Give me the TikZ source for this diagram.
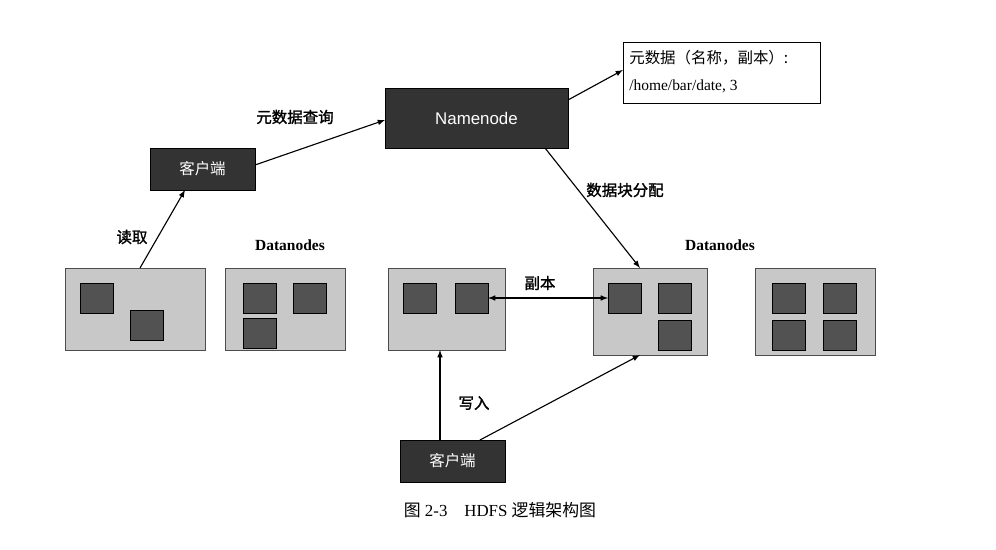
\documentclass[tikz,border=0pt]{standalone}
\usepackage{fontspec}
\setmainfont{Liberation Serif}
\newfontfamily\cjk{Noto Sans CJK SC}
\newfontfamily\cjkbold[FakeBold=1.5]{Noto Sans CJK SC}
\newfontfamily\sansfont{Liberation Sans}
\usepackage{tikz}
\usetikzlibrary{positioning}
\definecolor{darkbox}{HTML}{333333}
\definecolor{nodegray}{HTML}{C8C8C8}
\tikzset{
    dark-box/.style = {fill=darkbox, draw=black, text=white, inner sep=0pt},
    data-box/.style = {fill=nodegray, draw=black!70, thin},
    block/.style = {fill=darkbox!85, draw=black},
    link/.style = {-latex, thick},
    link-label/.style = {font=\cjkbold\fontsize{11}{13}\selectfont},
}
\begin{document}
\begin{tikzpicture}[x=0.025cm, y=-0.025cm]
\useasboundingbox (0,0) rectangle (996,550);
% name node and metadata
\draw[dark-box] (385,88) rectangle (568,148) node[midway, font=\sansfont\fontsize{12}{14}\selectfont] (name) {Namenode};
\coordinate (nameW) at (385,120);
\coordinate (nameE) at (568,100);
\coordinate (nameS) at (545,148);
\draw[fill=white] (623,42) rectangle (820,103);
\node[align=left, anchor=north west, inner sep=0pt, font=\fontsize{11}{19}\selectfont] (meta) at (629,50)
  {{\cjk 元数据（名称，副本）:}\\/home/bar/date, 3};
% clients
\draw[dark-box] (150,148) rectangle (255,190) node[midway, font=\cjk\fontsize{11}{13}\selectfont] (client-top) {客户端};
\draw[dark-box] (400,440) rectangle (505,482) node[midway, font=\cjk\fontsize{11}{13}\selectfont] (client-bot) {客户端};
% data nodes
\draw[data-box] (65,268) rectangle (205,350);
\draw[data-box] (225,268) rectangle (345,350);
\draw[data-box] (388,268) rectangle (505,350);
\draw[data-box] (593,268) rectangle (707,355);
\draw[data-box] (755,268) rectangle (875,355);
% blocks
\foreach \x/\y in {80/283, 130/310, 243/283, 293/283, 243/318, 403/283, 455/283,
                   608/283, 658/283, 658/320, 772/283, 823/283, 772/320, 823/320}
    \draw[block] (\x,\y) rectangle ++(33,30);
\node[font=\bfseries\fontsize{11}{13}\selectfont] (dn-left) at (290,245) {Datanodes};
\node[font=\bfseries\fontsize{11}{13}\selectfont] (dn-right) at (720,245) {Datanodes};
% connectors
\draw[link] (140,268) -- (185,190);
\node[link-label] (read) at (132,237) {读取};
\draw[link] (255,165) -- (nameW);
\node[link-label] (query) at (295,117) {元数据查询};
\draw[link] (nameE) -- (623,70);
\draw[link] (nameS) -- (640,268);
\node[link-label] (assign) at (625,190) {数据块分配};
\draw[latex-latex, thick] (488,298) -- (608,298);
\node[link-label] (replica) at (540,283) {副本};
\draw[link] (440,440) -- (440,350);
\node[link-label] (write) at (474,403) {写入};
\draw[link] (480,440) -- (640,355);
% caption
\node[font=\fontsize{12}{14}\selectfont] (caption) at (500,510) {{\cjk 图} 2-3\quad HDFS {\cjk 逻辑架构图}};
\end{tikzpicture}
\end{document}
